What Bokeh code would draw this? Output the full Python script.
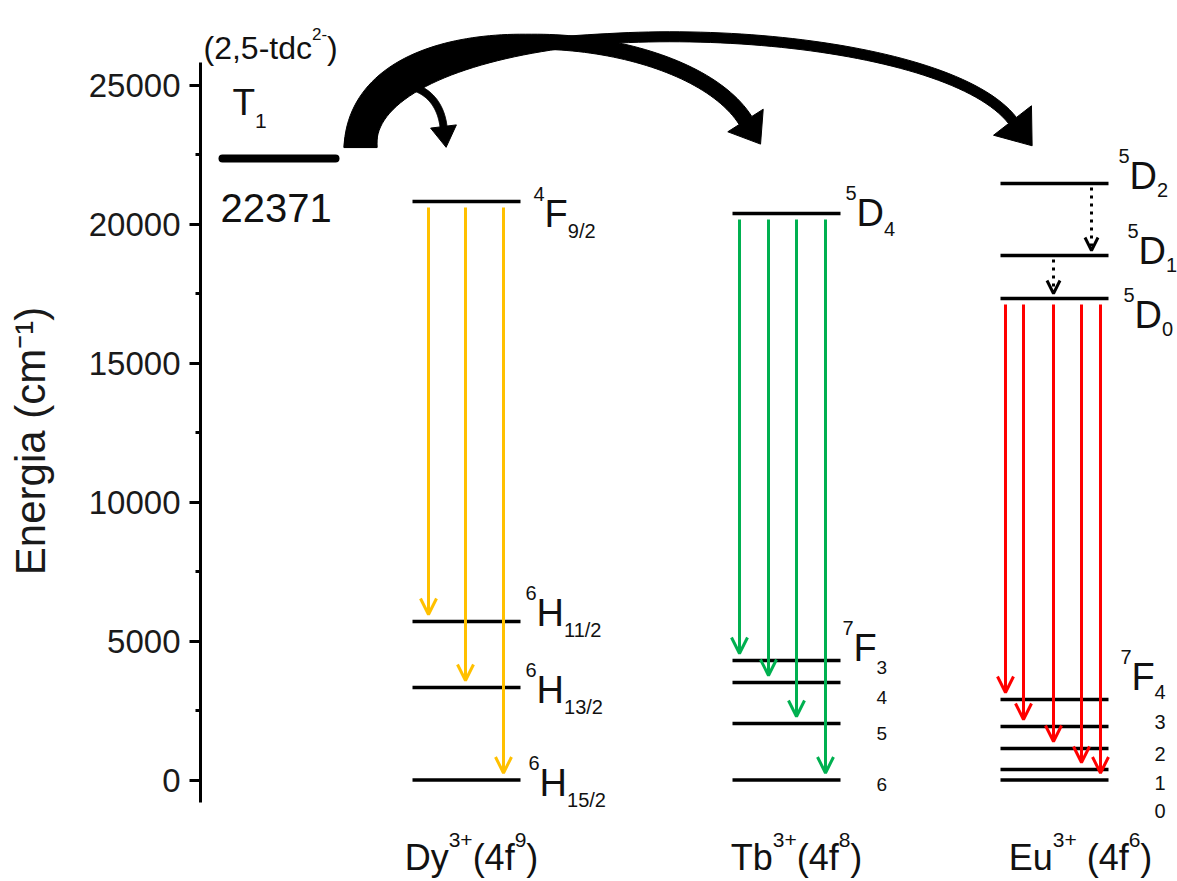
import re
import numpy as np
from bokeh.plotting import figure
from bokeh.models import Range1d, FixedTicker, ColumnDataSource, Arrow, OpenHead
from bokeh.core.properties import value
from bokeh.embed import file_html
from bokeh.resources import INLINE

# ---------------- data ----------------
t1_energy = 22371
t1_label = "22371"
ligand = "(2,5-tdc"
dy_terms = ["4F9/2", "6H11/2", "6H13/2", "6H15/2"]
dy_levels = [20824, 5706, 3330, 0]
tb_terms = ["5D4", "7F3", "7F4", "7F5", "7F6"]
tb_levels = [20392, 4302, 3510, 2034, 0]
eu_terms = ["5D2", "5D1", "5D0", "7F4", "7F3", "7F2", "7F1", "7F0"]
eu_levels = [21472, 18880, 17333, 2898, 1926, 1134, 378, 0]
dy_emission = ["6H11/2", "6H13/2", "6H15/2"]          # from 4F9/2
tb_emission = ["7F3", "7F4", "7F5", "7F6"]            # from 5D4
eu_emission = ["7F4", "7F3", "7F2", "7F1", "7F0"]     # from 5D0
eu_relax = [("5D2", "5D1"), ("5D1", "5D0")]
ions = ["Dy", "Tb", "Eu"]
ion_conf = ["9", "8", "6"]
y_ticks = [0, 5000, 10000, 15000, 20000, 25000]
y_minor = [2500, 7500, 12500, 17500, 22500]

# ---------------- layout ----------------
W, H = 1177, 881
LEFT = 200
X0, X1 = LEFT, W
K = 0.02778          # px per cm-1
ZERO_PY = 779.5      # canvas y of 0 cm-1
y_top = ZERO_PY / K
y_bot = (ZERO_PY - H) / K


def Y(py):
    return (ZERO_PY - py) / K


COLW = 108
col_left = {"Dy": 412, "Tb": 732, "Eu": 1000}
colors = {"Dy": "#FFC000", "Tb": "#00B050", "Eu": "#FF0000"}
FONT = value("Liberation Sans")
NBSP = "\u00a0"

AW = {' ': 278, NBSP: 278, '(': 333, ')': 333, '+': 584, ',': 278, '-': 333, '/': 278,
      'D': 722, 'E': 667, 'F': 611, 'H': 722, 'T': 611, 'a': 556, 'b': 556,
      'c': 500, 'd': 556, 'f': 278, 't': 278, 'u': 556, 'y': 500}


def tw(s, size):
    return sum(AW.get(c, 556) for c in s) / 1000.0 * size


p = figure(width=W, height=H, x_range=Range1d(X0, X1), y_range=Range1d(y_bot, y_top),
           output_backend="svg", toolbar_location=None, x_axis_location=None,
           min_border_left=LEFT, min_border_right=0, min_border_top=0, min_border_bottom=0)
p.outline_line_color = None
p.grid.visible = False
p.background_fill_color = "white"
p.border_fill_color = "white"

ax = p.yaxis[0]
ax.ticker = FixedTicker(ticks=y_ticks, minor_ticks=y_minor)
ax.bounds = (Y(802), Y(62))
ax.axis_line_width = 3
ax.axis_line_color = "black"
ax.major_tick_line_width = 3
ax.major_tick_out = 11
ax.major_tick_in = 0
ax.minor_tick_line_width = 3
ax.minor_tick_out = 5
ax.minor_tick_in = 0
ax.major_label_text_font = "Liberation Sans"
ax.major_label_text_font_size = "33px"
ax.major_label_text_color = "#1a1a1a"
ax.major_label_standoff = 9
ax.axis_label = "Energia (cm\u207b\u00b9)"
ax.axis_label_text_font = "Liberation Sans"
ax.axis_label_text_font_size = "42px"
ax.axis_label_text_font_style = "normal"
ax.axis_label_text_color = "#1a1a1a"
ax.axis_label_standoff = 32

# ---------------- curved energy-transfer arrows ----------------
def bez(P, t):
    P = np.asarray(P, float)
    a = (1 - t) ** 3; b = 3 * (1 - t) ** 2 * t; c = 3 * (1 - t) * t ** 2; d = t ** 3
    return a[:, None] * P[0] + b[:, None] * P[1] + c[:, None] * P[2] + d[:, None] * P[3]


def dbez(P, t):
    P = np.asarray(P, float)
    a = 3 * (1 - t) ** 2; b = 6 * (1 - t) * t; c = 3 * t ** 2
    return a[:, None] * (P[1] - P[0]) + b[:, None] * (P[2] - P[1]) + c[:, None] * (P[3] - P[2])


def fat_arrow(P, wfun, head_len, head_w):
    t = np.linspace(0, 1, 90)
    pts = bez(P, t)
    d = dbez(P, t)
    d = d / np.linalg.norm(d, axis=1)[:, None]
    n = np.stack([-d[:, 1], d[:, 0]], axis=1)
    w = wfun(t)[:, None]
    L = pts + n * w / 2
    R = pts - n * w / 2
    end, de, ne = pts[-1], d[-1], n[-1]
    tip = end + de * head_len
    hl = end + ne * head_w / 2
    hr = end - ne * head_w / 2
    xs = list(L[:, 0]) + [hl[0], tip[0], hr[0]] + list(R[::-1, 0])
    ys = list(L[:, 1]) + [hl[1], tip[1], hr[1]] + list(R[::-1, 1])
    return xs, [Y(v) for v in ys]


t1_right = 335
base_x = t1_right + 25
base_py = ZERO_PY - t1_energy * K - 11
arcs = [
    ([(base_x, base_py), (base_x, 0), (925, 8), (col_left["Eu"] + 12, 120)],
     lambda t: 10 + 23 * np.clip(1 - t / 0.45, 0, 1) ** 1.2, 32, 48),
    ([(base_x, base_py), (base_x, 3), (680, 18), (col_left["Tb"] + 13, 120)],
     lambda t: 15 + 18 * np.clip(1 - t / 0.5, 0, 1), 28, 42),
    ([(395, 84), (425, 84), (440, 102), (443, 126)],
     lambda t: 7 + 0 * t, 21, 26),
]
for P, wf, hlen, hw in arcs:
    xs, ys = fat_arrow(P, wf, hlen, hw)
    p.patch(xs, ys, fill_color="black", line_color="black", line_width=1)

# ---------------- levels ----------------
p.segment(x0=[222], x1=[t1_right], y0=[t1_energy], y1=[t1_energy],
          line_width=8, line_color="black", line_cap="round")

level_sets = {"Dy": (dy_terms, dy_levels), "Tb": (tb_terms, tb_levels), "Eu": (eu_terms, eu_levels)}
for ion in ions:
    terms, levels = level_sets[ion]
    x0 = col_left[ion]
    p.segment(x0=[x0] * len(levels), x1=[x0 + COLW] * len(levels), y0=levels, y1=levels,
              line_width=3.5, line_color="black")

# ---------------- emission arrows ----------------
GAP_TOP = 6 / K
GAP_END = 7 / K
arrow_dx = {"Dy": [16, 53, 91], "Tb": [7, 36, 64, 93], "Eu": [5, 23, 53, 81, 100]}
emissions = {"Dy": ("4F9/2", dy_emission), "Tb": ("5D4", tb_emission), "Eu": ("5D0", eu_emission)}
for ion in ions:
    terms, levels = level_sets[ion]
    lv = dict(zip(terms, levels))
    src_term, targets = emissions[ion]
    xs = [col_left[ion] + dx for dx in arrow_dx[ion]]
    src = ColumnDataSource(dict(
        x0=xs, x1=xs,
        y0=[lv[src_term] - GAP_TOP] * len(targets),
        y1=[lv[t] + GAP_END for t in targets]))
    p.add_layout(Arrow(source=src, x_start="x0", y_start="y0", x_end="x1", y_end="y1",
                       line_color=colors[ion], line_width=3,
                       end=OpenHead(size=16, line_width=3, line_color=colors[ion])))

# non-radiative relaxation (dotted)
lv_eu = dict(zip(eu_terms, eu_levels))
relax_dx = [91, 53]
xs = [col_left["Eu"] + dx for dx in relax_dx]
src = ColumnDataSource(dict(x0=xs, x1=xs,
                            y0=[lv_eu[a] - 4 / K for a, b in eu_relax],
                            y1=[lv_eu[b] + 5 / K for a, b in eu_relax]))
p.add_layout(Arrow(source=src, x_start="x0", y_start="y0", x_end="x1", y_end="y1",
                   line_color="black", line_width=3, line_dash="3 5",
                   end=OpenHead(size=13, line_width=3, line_color="black")))

# ---------------- texts ----------------
pieces = dict(x=[], y=[], text=[], size=[], yoff=[])


def add_parts(x, yv, parts, base_off, main=38, small=20, sup_off=-20, sub_off=16):
    cx = x
    for txt, kind in parts:
        if kind == "m":
            sz, off = main, 0
        elif kind == "sup":
            sz, off = small, sup_off
        else:
            sz, off = small, sub_off
        pieces["x"].append(cx)
        pieces["y"].append(yv)
        pieces["text"].append(txt)
        pieces["size"].append("%dpx" % sz)
        pieces["yoff"].append(base_off + off)
        cx += tw(txt, sz)


def term_parts(term, with_sub=True):
    m = re.match(r"(\d+)([A-Z])(.*)", term)
    parts = [(m.group(1), "sup"), (m.group(2), "m")]
    if with_sub:
        parts.append((m.group(3), "sub"))
    return parts


# T1 and ligand
add_parts(232, t1_energy, [("T", "m"), ("1", "sub")], -56, main=37, small=21, sub_off=18)
add_parts(220, t1_energy, [(t1_label, "m")], 49, main=40)
add_parts(203, t1_energy, [(ligand, "m"), ("2-", "sup"), (")", "m")], -111,
          main=32, small=17, sup_off=-14)

# Dy terms
col_right = {k: v + COLW for k, v in col_left.items()}
dy_dx = [13, 5, 5, 8]
dy_dy = [12, -8, 3, 3]
for term, lev, dx, dy in zip(dy_terms, dy_levels, dy_dx, dy_dy):
    add_parts(col_right["Dy"] + dx, lev, term_parts(term), dy, sub_off=17)

# Tb terms
lv_tb = dict(zip(tb_terms, tb_levels))
add_parts(col_right["Tb"] + 5, lv_tb["5D4"], term_parts("5D4"), -1, sub_off=16)
add_parts(col_right["Tb"] + 2, lv_tb["7F3"], term_parts("7F3", False), -12)
tb_num_dy = [7, 15, 10, 4]
for term, dy in zip(tb_terms[1:], tb_num_dy):
    add_parts(col_right["Tb"] + 36, lv_tb[term], [(term[2:], "m")], dy, main=19)

# Eu terms
eu_d_dx = [10, 19, 15]
eu_d_dy = [-8, -5, 17]
for term, dx, dy in zip(eu_terms[:3], eu_d_dx, eu_d_dy):
    add_parts(col_right["Eu"] + dx, lv_eu[term], term_parts(term), dy, sub_off=14)
add_parts(col_right["Eu"] + 12, lv_eu["7F4"], term_parts("7F4", False), -22)
eu_num_dy = [-7, -4, 6, 14, 31]
for term, dy in zip(eu_terms[3:], eu_num_dy):
    add_parts(col_right["Eu"] + 46, lv_eu[term], [(term[2:], "m")], dy, main=20)

# ion labels at the bottom
ion_dx = [5, 10, 26]
for ion, conf, dx in zip(ions, ion_conf, ion_dx):
    open_par = NBSP + "(4f" if ion == "Eu" else "(4f"
    parts = [(ion, "m"), ("3+", "sup"), (open_par, "m"), (conf, "sup"), (")", "m")]
    width = sum(tw(t, 36 if k == "m" else 21) for t, k in parts)
    cx = col_left[ion] + COLW / 2 + dx - width / 2
    add_parts(cx, 0, parts, 77, main=36, small=21, sup_off=-17)

p.text(x="x", y="y", text="text", source=ColumnDataSource(pieces),
       text_font=FONT, text_font_size="size", y_offset="yoff",
       text_align="left", text_baseline="alphabetic", text_color="#111111")

open("out.html", "w").write(file_html(p, INLINE))
